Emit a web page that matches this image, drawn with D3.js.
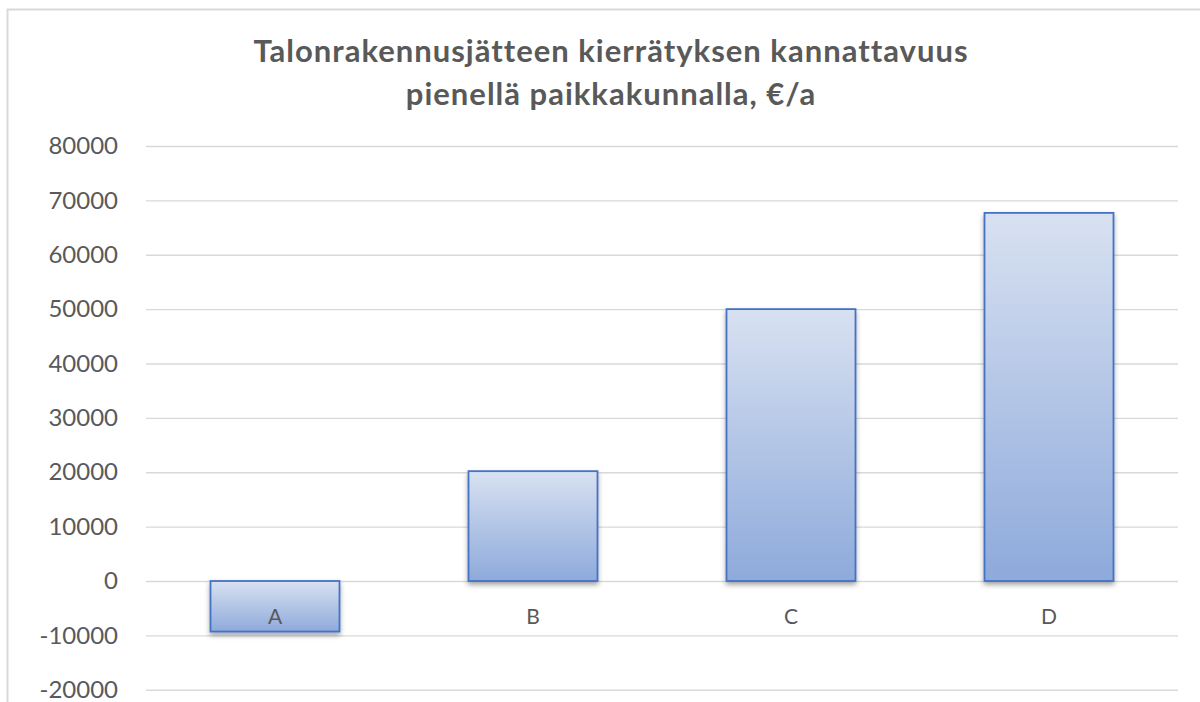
<!doctype html>
<html>
<head>
<meta charset="utf-8">
<script src="https://d3js.org/d3.v7.min.js"></script>
<style>
  body { margin: 0; background: #fff; }
  svg { display: block; }
</style>
</head>
<body>
<svg width="1200" height="702"></svg>
<script>
// data
var categories = ["A", "B", "C", "D"];
var values = [-9300, 20200, 50000, 67700];
var yTicks = [-20000, -10000, 0, 10000, 20000, 30000, 40000, 50000, 60000, 70000, 80000];
var titleLines = ["Talonrakennusjätteen kierrätyksen kannattavuus", "pienellä paikkakunnalla, €/a"];

var svg = d3.select("svg");
var font = "Lato, 'Open Sans', sans-serif";
var plotLeft = 146, plotRight = 1178, plotTop = 146, plotBottom = 689.75;

// outer frame
svg.append("rect")
    .attr("x", 7.5).attr("y", 9.5)
    .attr("width", 1200).attr("height", 702)
    .attr("fill", "#fff")
    .attr("stroke", "#d9d9d9")
    .attr("stroke-width", 2);

var defs = svg.append("defs");
var grad = defs.append("linearGradient")
    .attr("id", "barGrad")
    .attr("x1", 0).attr("y1", 0).attr("x2", 0).attr("y2", 1);
grad.append("stop").attr("offset", "0%").attr("stop-color", "#d8e1f1");
grad.append("stop").attr("offset", "100%").attr("stop-color", "#8eaadb");

var shadow = defs.append("filter").attr("id", "shadow")
    .attr("x", "-10%").attr("y", "-10%").attr("width", "120%").attr("height", "130%");
shadow.append("feDropShadow")
    .attr("dx", 0).attr("dy", 3)
    .attr("stdDeviation", 2.5)
    .attr("flood-color", "#000")
    .attr("flood-opacity", 0.35);

var x = d3.scaleBand().domain(categories).range([plotLeft, plotRight]).paddingInner(0.5).paddingOuter(0.25);
var y = d3.scaleLinear().domain([-20000, 80000]).range([plotBottom, plotTop]);

// title
svg.append("text")
    .attr("text-anchor", "middle")
    .attr("font-family", font)
    .attr("font-weight", "bold")
    .attr("font-size", "31px")
    .attr("letter-spacing", "1px")
    .attr("fill", "#595959")
    .selectAll("tspan")
    .data(titleLines)
    .enter().append("tspan")
    .attr("x", 611)
    .attr("y", function(d, i) { return 62 + i * 43; })
    .text(function(d) { return d; });

// gridlines + y labels (plain hyphen for negatives, like Excel)
var yAxis = svg.append("g")
    .attr("transform", "translate(" + plotLeft + ",0)")
    .call(d3.axisLeft(y).tickValues(yTicks).tickSize(-(plotRight - plotLeft)).tickPadding(28)
        .tickFormat(function(d) { return String(d); }));
yAxis.select(".domain").remove();
yAxis.selectAll("line").attr("stroke", "#d9d9d9").attr("stroke-width", 1.3);
yAxis.selectAll("text")
    .attr("font-family", font)
    .attr("font-size", "24px")
    .attr("fill", "#595959");

// bars
svg.append("g").selectAll(".bar")
    .data(values)
    .enter().append("rect")
    .attr("class", "bar")
    .attr("x", function(d, i) { return x(categories[i]); })
    .attr("y", function(d) { return y(Math.max(0, d)); })
    .attr("width", x.bandwidth())
    .attr("height", function(d) { return Math.abs(y(d) - y(0)); })
    .attr("fill", "url(#barGrad)")
    .attr("stroke", "#4472c4")
    .attr("stroke-width", 1.8)
    .attr("filter", "url(#shadow)");

// category labels
svg.append("g").selectAll(".cat")
    .data(categories)
    .enter().append("text")
    .attr("x", function(d) { return x(d) + x.bandwidth() / 2; })
    .attr("y", y(0) + 43)
    .attr("text-anchor", "middle")
    .attr("font-family", font)
    .attr("font-size", "21px")
    .attr("fill", "#595959")
    .text(function(d) { return d; });
</script>
</body>
</html>
